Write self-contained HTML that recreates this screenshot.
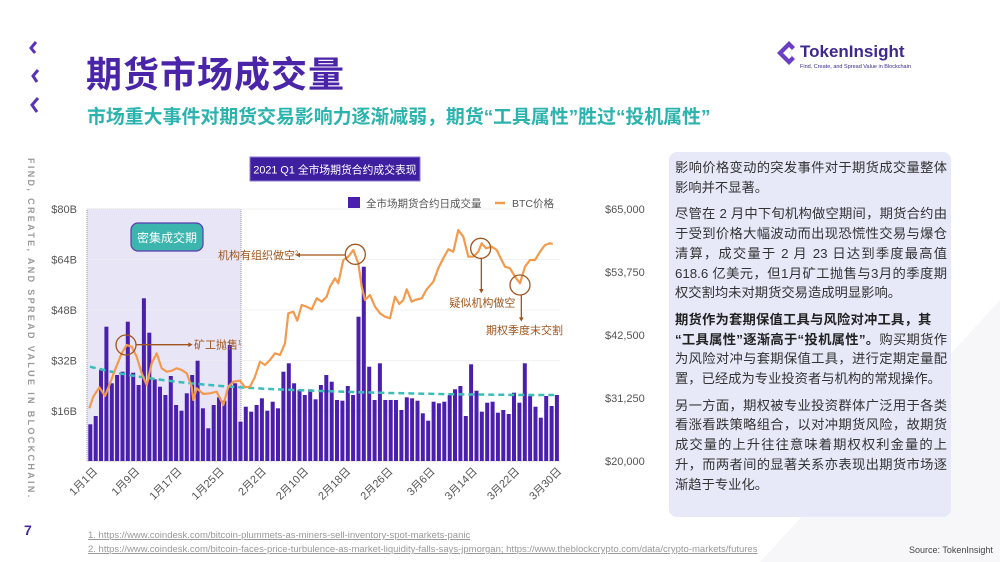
<!DOCTYPE html>
<html><head><meta charset="utf-8">
<style>
body{margin:0;width:1000px;height:562px;overflow:hidden;background:#fff;font-family:"Liberation Sans","Noto Sans CJK SC",sans-serif;position:relative}
.abs{position:absolute}
#title{left:86px;top:46px;font-size:36px;font-weight:bold;color:#4b25a9;letter-spacing:1px}
#sub{left:87px;top:102px;font-size:18.9px;font-weight:bold;color:#2bb3ae;white-space:nowrap}
#vt{left:26px;top:158px;writing-mode:vertical-rl;font-size:9px;letter-spacing:2.35px;color:#999;font-weight:bold;white-space:nowrap}
#box{left:669px;top:152px;width:272px;height:359px;padding:6px 4px 0 6px;background:#e7e9f9;border-radius:8px;font-size:13.3px;line-height:19.7px;color:#333;text-align:justify}
#box p{margin:0 0 7px 0}
.fn{left:88px;font-size:9.5px;color:#999;text-decoration:underline;white-space:nowrap}
</style></head><body>
<svg class="abs" style="left:0;top:0" width="1000" height="562">
<polygon points="760,562 1000,300 1000,562" fill="#f7f7f9"/>
<g stroke="#5b34b5" stroke-width="3" fill="none">
<polyline points="36,42 31,48 35,53"/>
<polyline points="38,70 33,76 37,82"/>
<polyline points="38,98 32,105 37,112"/>
</g>
<g transform="translate(777,41)">
<polygon points="0,12 12,0 18,6 12,12 18,18 12,24" fill="#6a3fc4"/>
<polygon points="6,12 12,6 15,9 12,12 15,15 12,18" fill="#fff"/>
</g>
<text x="800" y="57" font-size="17" font-weight="bold" fill="#3c2a8c" font-family="Liberation Sans">TokenInsight</text>
<text x="800" y="68" font-size="5.5" fill="#3c2a8c" font-family="Liberation Sans">Find, Create, and Spread Value in Blockchain</text>
</svg>
<div id="title" class="abs">期货市场成交量</div>
<div id="sub" class="abs">市场重大事件对期货交易影响力逐渐减弱，期货“工具属性”胜过“投机属性”</div>
<div id="vt" class="abs">FIND, CREATE, AND SPREAD VALUE IN BLOCKCHAIN.</div>
<svg id="chart" class="abs" style="left:0;top:0" width="660" height="520"></svg>
<div id="box" class="abs">
<p>影响价格变动的突发事件对于期货成交量整体影响并不显著。</p>
<p>尽管在 2 月中下旬机构做空期间，期货合约由于受到价格大幅波动而出现恐慌性交易与爆仓清算，成交量于 2 月 23 日达到季度最高值618.6 亿美元，但1月矿工抛售与3月的季度期权交割均未对期货交易造成明显影响。</p>
<p><b style="color:#222;letter-spacing:0.2px;white-space:nowrap">期货作为套期保值工具与风险对冲工具，其</b><br><b style="color:#222"> “工具属性”逐渐高于“投机属性”。</b>购买期货作为风险对冲与套期保值工具，进行定期定量配置，已经成为专业投资者与机构的常规操作。</p>
<p>另一方面，期权被专业投资群体广泛用于各类看涨看跌策略组合，以对冲期货风险，故期货成交量的上升往往意味着期权权利金量的上升，而两者间的显著关系亦表现出期货市场逐渐趋于专业化。</p>
</div>
<div class="abs" style="left:24px;top:522px;font-size:14px;font-weight:bold;color:#4b25a9">7</div>
<div class="abs fn" style="top:530px">1. https://www.coindesk.com/bitcoin-plummets-as-miners-sell-inventory-spot-markets-panic</div>
<div class="abs fn" style="top:544px">2. https://www.coindesk.com/bitcoin-faces-price-turbulence-as-market-liquidity-falls-says-jpmorgan; https://www.theblockcrypto.com/data/crypto-markets/futures</div>
<div class="abs" style="left:909px;top:545px;font-size:9px;color:#444">Source: TokenInsight</div>
<script>
var tops=[823,798,660,530,700,675,665,515,668,705,445,548,688,710,735,678,765,782,730,675,632,775,835,765,742,752,585,700,815,770,785,765,745,782,755,775,665,640,700,720,735,718,748,705,675,695,750,752,708,735,500,350,650,750,640,750,750,750,780,742,745,752,790,812,755,760,755,735,718,708,798,643,722,785,758,755,788,780,792,728,758,640,738,770,803,738,768,735];
var line=[[88,775],[100,740],[118,712],[135,738],[150,700],[165,660],[185,610],[200,585],[215,590],[230,620],[245,670],[260,705],[275,640],[290,610],[305,655],[320,665],[335,662],[350,655],[365,660],[380,670],[395,710],[400,750],[410,715],[430,732],[450,730],[470,725],[490,765],[505,710],[520,695],[540,692],[555,712],[570,710],[585,680],[600,635],[615,645],[630,630],[645,610],[660,615],[675,580],[685,490],[700,485],[712,512],[725,465],[740,470],[755,478],[770,445],[785,455],[800,440],[810,410],[825,385],[835,400],[850,330],[865,320],[880,300],[895,340],[905,410],[915,450],[930,435],[945,470],[960,490],[975,500],[990,505],[1005,440],[1018,462],[1030,450],[1040,418],[1055,455],[1065,450],[1085,445],[1100,418],[1120,395],[1135,355],[1150,325],[1165,298],[1180,305],[1195,240],[1210,260],[1225,320],[1240,320],[1255,305],[1265,280],[1278,295],[1295,290],[1310,300],[1320,320],[1335,350],[1350,355],[1365,380],[1380,400],[1395,350],[1410,330],[1425,330],[1440,305],[1455,285],[1470,280],[1478,282]];
function X(x){return x/3+60} function Y(y){return y/3+150}
var s='';
s+='<rect x="87" y="209" width="154" height="252" fill="#e8e5f6" stroke="#888" stroke-dasharray="1,1" stroke-width="0.8"/>';
[209,259.5,310,360.5,411].forEach(function(y){s+='<line x1="87" x2="560" y1="'+y+'" y2="'+y+'" stroke="#eee" stroke-width="0.8"/>';});
s+='<line x1="87" x2="560" y1="461" y2="461" stroke="#ccc" stroke-width="0.8"/>';
var lab=['$80B','$64B','$48B','$32B','$16B'],rl=['$65,000','$53,750','$42,500','$31,250','$20,000'];
lab.forEach(function(t,i){s+='<text x="77" y="'+(213+i*50.5)+'" font-size="11" fill="#555" text-anchor="end">'+t+'</text>';});
rl.forEach(function(t,i){s+='<text x="605" y="'+(213+i*63)+'" font-size="11" fill="#555">'+t+'</text>';});
var n=tops.length,step=(560-88)/n;
tops.forEach(function(t,i){var x=88+i*step;s+='<rect x="'+(x+0.3).toFixed(1)+'" y="'+Y(t).toFixed(1)+'" width="'+(step-1.4).toFixed(1)+'" height="'+(461-Y(t)).toFixed(1)+'" fill="#4a1fae"/>';});
s+='<path d="M'+X(90)+','+Y(650)+' Q'+X(300)+','+Y(705)+' '+X(700)+','+Y(720)+' T'+X(1490)+','+Y(735)+'" fill="none" stroke="#3bbdb8" stroke-width="2.5" stroke-dasharray="6,4"/>';
s+='<polyline points="'+line.map(function(p){return X(p[0]).toFixed(1)+','+Y(p[1]).toFixed(1)}).join(' ')+'" fill="none" stroke="#f39a4e" stroke-width="2.2" stroke-linejoin="round"/>';
var br='#a0541c';
function circ(x,y){s+='<circle cx="'+X(x)+'" cy="'+Y(y)+'" r="10" fill="none" stroke="'+br+'" stroke-width="1.3"/>';}
circ(198,585);circ(886,313);circ(1262,295);circ(1380,405);
s+='<line x1="'+X(228)+'" y1="'+Y(584)+'" x2="'+X(390)+'" y2="'+Y(584)+'" stroke="'+br+'" stroke-width="1.3"/><polygon points="'+X(398)+','+Y(584)+' '+X(385)+','+Y(577)+' '+X(385)+','+Y(591)+'" fill="'+br+'"/>';
s+='<text x="'+X(402)+'" y="'+Y(595)+'" font-size="11" fill="'+br+'">矿工抛售<tspan font-size="6" dy="-4">1</tspan></text>';
s+='<line x1="'+X(856)+'" y1="'+Y(315)+'" x2="'+X(715)+'" y2="'+Y(315)+'" stroke="'+br+'" stroke-width="1.3"/><polygon points="'+X(706)+','+Y(315)+' '+X(720)+','+Y(308)+' '+X(720)+','+Y(322)+'" fill="'+br+'"/>';
s+='<text x="'+X(474)+'" y="'+Y(327)+'" font-size="11" fill="'+br+'">机构有组织做空<tspan font-size="6" dy="-4">2</tspan></text>';
s+='<line x1="'+X(1264)+'" y1="'+Y(325)+'" x2="'+X(1264)+'" y2="'+Y(420)+'" stroke="'+br+'" stroke-width="1.3"/><polygon points="'+X(1264)+','+Y(430)+' '+X(1257)+','+Y(417)+' '+X(1271)+','+Y(417)+'" fill="'+br+'"/>';
s+='<text x="'+X(1168)+'" y="'+Y(470)+'" font-size="11" fill="'+br+'">疑似机构做空</text>';
s+='<line x1="'+X(1384)+'" y1="'+Y(435)+'" x2="'+X(1384)+'" y2="'+Y(505)+'" stroke="'+br+'" stroke-width="1.3"/><polygon points="'+X(1384)+','+Y(515)+' '+X(1377)+','+Y(502)+' '+X(1391)+','+Y(502)+'" fill="'+br+'"/>';
s+='<text x="'+X(1278)+'" y="'+Y(552)+'" font-size="11" fill="'+br+'">期权季度末交割</text>';
s+='<rect x="131" y="223" width="72" height="28" rx="7" fill="#3bb5ae" stroke="#5a3bb0" stroke-width="1.2"/><text x="167" y="242" font-size="12" fill="#fff" text-anchor="middle">密集成交期</text>';
s+='<rect x="250" y="157" width="170" height="24" fill="#3e1fa0" stroke="#8d7ad0" stroke-width="1"/><text x="335" y="173.5" font-size="10.8" fill="#fff" text-anchor="middle">2021 Q1 全市场期货合约成交表现</text>';
s+='<rect x="348" y="197" width="12" height="11" fill="#4a1fae"/><text x="366" y="207" font-size="10.5" fill="#555">全市场期货合约日成交量</text>';
s+='<line x1="495" x2="505" y1="203" y2="203" stroke="#f39a4e" stroke-width="2.5"/><text x="512" y="207" font-size="10.5" fill="#555">BTC价格</text>';
var xl=['1月1日','1月9日','1月17日','1月25日','2月2日','2月10日','2月18日','2月26日','3月6日','3月14日','3月22日','3月30日'];
xl.forEach(function(t,i){var x=98+i*42.2;s+='<text transform="translate('+x+',472) rotate(-45)" font-size="11" fill="#555" text-anchor="end">'+t+'</text>';});
document.getElementById('chart').innerHTML=s;
</script>
</body></html>
